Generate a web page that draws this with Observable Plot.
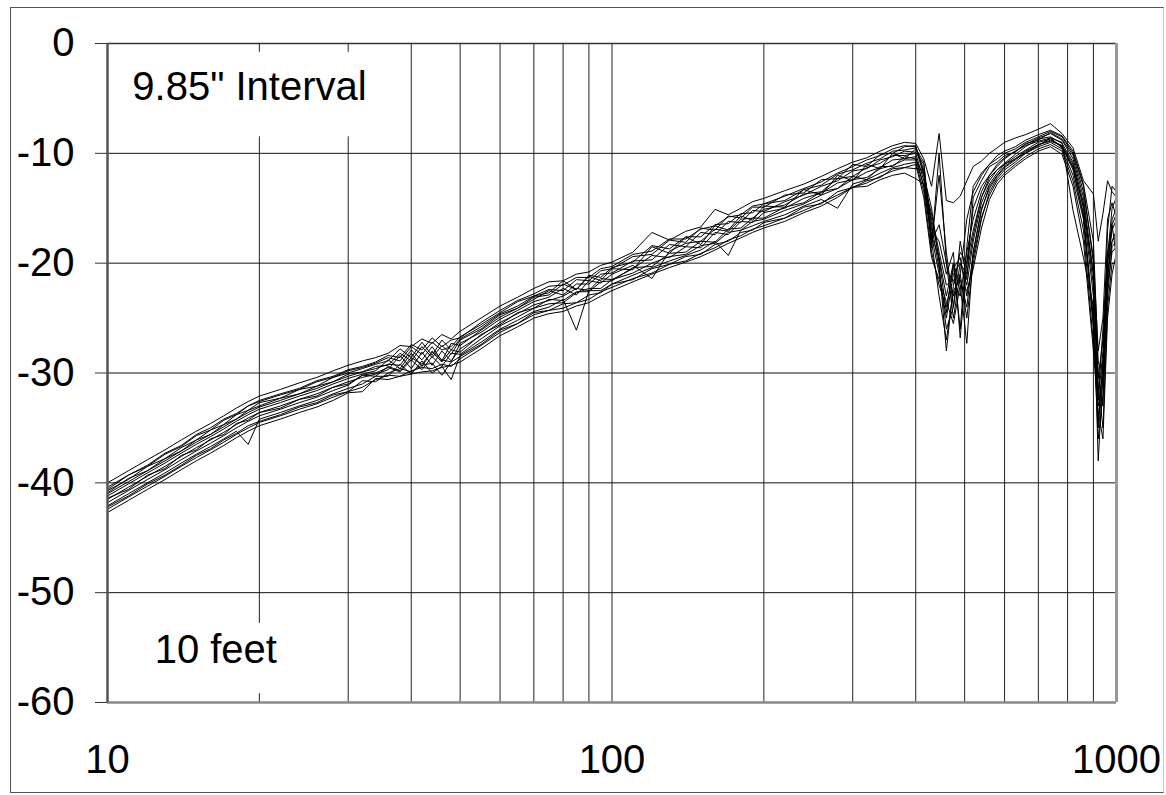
<!DOCTYPE html>
<html>
<head>
<meta charset="utf-8">
<script src="https://cdn.jsdelivr.net/npm/d3@7"></script>
<script src="https://cdn.jsdelivr.net/npm/@observablehq/plot@0.6"></script>
<style>
  html, body { margin: 0; padding: 0; background: #fff; }
  #wrap { position: relative; width: 1166px; height: 795px; }
  #frame { position: absolute; left: 10px; top: 7px; width: 1154px; height: 786px; box-sizing: border-box; border: 1px solid #555; border-right-color: #ccc; pointer-events: none; }
</style>
</head>
<body>
<div id="wrap"><div id="frame"></div></div>
<script>
// Frequencies (Hz) of the measurement points
const freqs = [10,11,12,13,14,15,16,17,18,19,20,
  22,24,26,28,30,32,34,36,38,40,
  42,44,46,48,50,
  55,60,65,70,75,80,85,90,95,100,
  110,120,130,140,150,160,170,180,190,200,
  220,240,260,280,300,320,340,360,380,400,
  415,430,445,460,475,490,505,520,540,560,580,600,
  630,660,700,740,780,820,860,900,920,940,960,980,1000];

// Response curves (dB), one array per measurement position
const curve0 = [-40.0,-38.9,-37.9,-37.0,-36.1,-35.3,-34.6,-33.9,-33.2,-32.6,-32.1,
  -31.5,-30.9,-30.4,-29.8,-29.3,-28.9,-28.6,-28.2,-27.5,-27.6,
  -26.9,-27.3,-26.5,-26.9,-26.2,
  -25.0,-23.9,-23.1,-22.3,-21.7,-21.6,-21.0,-20.8,-20.2,-19.9,
  -19.0,-17.2,-17.9,-17.1,-16.7,-15.1,-15.6,-15.0,-14.4,-14.1,
  -13.4,-12.8,-12.1,-11.4,-10.8,-10.4,-9.8,-9.3,-9.0,-9.1,
  -10.5,-13,-8.2,-14.3,-14.5,-13.9,-12.5,-11.2,-10.7,-10.0,-9.5,-9.0,
  -8.6,-8.3,-7.8,-7.3,-8.2,-9.5,-12.5,-13.7,-18,-15.5,-12.5,-13.5,-14];
const curve1 = [-40.4,-39.3,-38.4,-37.3,-36.6,-35.6,-35.0,-34.2,-33.7,-33.0,-32.5,
  -31.9,-31.4,-30.7,-30.3,-29.7,-29.4,-29.0,-28.4,-28.6,-27.4,
  -27.9,-26.8,-27.6,-27.0,-26.8,
  -25.4,-24.3,-23.4,-22.8,-22.1,-22.0,-21.3,-21.3,-20.5,-20.3,
  -19.2,-18.9,-17.8,-17.8,-16.9,-16.6,-15.8,-15.6,-14.8,-14.6,
  -13.9,-13.2,-12.6,-11.8,-11.2,-10.6,-10.2,-9.6,-9.3,-9.4,
  -11.5,-18.6,-10,-20,-25,-21,-16,-13.5,-12,-11,-10.5,-10,
  -9.6,-9,-8.5,-8.0,-8.5,-10,-13,-20,-30,-33,-22,-16,-15];
const curve2 = [-40.7,-39.7,-38.5,-37.8,-36.8,-36.1,-35.2,-34.7,-33.8,-33.4,-32.7,
  -32.3,-31.5,-31.2,-30.4,-30.0,-29.6,-29.2,-28.9,-27.8,-28.6,
  -27.2,-28.4,-27.0,-27.9,-26.9,
  -25.8,-24.6,-23.9,-23.0,-22.7,-21.6,-22.4,-21.1,-21.3,-20.4,
  -19.9,-18.4,-18.7,-17.6,-17.6,-16.5,-16.4,-15.5,-15.4,-14.6,
  -14.3,-13.3,-12.9,-11.9,-11.5,-10.9,-10.5,-9.8,-9.7,-9.5,
  -12,-15,-20,-28,-22,-19,-20,-17,-14,-12.5,-11.5,-11,
  -10.5,-10,-9.3,-8.6,-9,-15.2,-19.5,-24,-35,-29,-21,-18,-17];
const curve3 = [-41.0,-39.9,-38.9,-38.0,-37.1,-36.3,-35.6,-34.9,-34.2,-33.6,-33.1,
  -32.5,-31.9,-31.4,-30.8,-30.3,-29.9,-29.6,-29.2,-29.3,-27.9,
  -28.8,-27.6,-28.9,-27.3,-27.5,
  -26.1,-24.9,-24.1,-23.3,-22.5,-22.9,-21.9,-21.9,-21.0,-20.9,
  -19.8,-19.7,-18.3,-18.5,-17.2,-17.4,-16.2,-16.3,-15.2,-15.3,
  -14.4,-13.8,-13.0,-12.5,-11.6,-11.4,-10.6,-10.3,-9.8,-9.9,
  -11,-17,-18,-21,-19,-26.8,-20,-15,-13,-12,-11.2,-10.5,
  -9.8,-9.2,-8.6,-8.2,-8.8,-10.5,-14,-21,-32,-26,-19,-16.5,-15.5];
const curve4 = [-41.2,-40.1,-39.1,-38.2,-37.3,-36.5,-35.8,-35.1,-34.4,-33.8,-33.3,
  -32.7,-32.1,-31.6,-31.0,-30.5,-30.1,-29.8,-28.8,-29.6,-28.2,
  -29.4,-28.0,-28.8,-29.0,-27.3,
  -26.3,-25.1,-24.3,-23.5,-23.1,-22.3,-22.9,-21.6,-21.8,-21.0,
  -20.2,-21.4,-18.9,-18.2,-18.0,-16.9,-17.1,-16.0,-15.9,-15.1,
  -14.7,-13.7,-13.5,-12.3,-12.1,-11.3,-10.9,-10.2,-10.2,-10.0,
  -12.5,-16,-19.5,-23,-20,-22,-27.3,-19,-15.2,-13,-12,-11.2,
  -10.5,-9.8,-9.2,-8.9,-9.3,-11,-15,-23,-38,-30,-20,-17,-16];
const curve5 = [-41.5,-40.4,-39.4,-38.5,-37.6,-36.8,-36.1,-35.4,-34.7,-34.1,-33.6,
  -33.0,-32.4,-31.9,-31.3,-30.8,-30.4,-30.1,-29.7,-28.4,-29.6,
  -28.1,-29.3,-28.0,-28.9,-27.8,
  -26.6,-25.4,-24.6,-23.8,-23.4,-23.0,-22.3,-22.5,-21.4,-21.5,
  -20.5,-19.3,-19.5,-18.5,-18.6,-17.2,-17.4,-16.2,-16.3,-15.4,
  -15.0,-14.1,-13.6,-12.7,-12.4,-11.7,-11.3,-10.6,-10.5,-10.3,
  -13,-17.5,-21,-25,-21,-20,-22,-18,-14.5,-12.8,-11.8,-11,
  -10.3,-9.7,-9.0,-8.7,-9.4,-11.5,-15.5,-25,-33,-31,-21,-18,-17.5];
const curve6 = [-41.8,-40.7,-39.7,-38.8,-37.9,-37.1,-36.4,-35.7,-35.0,-34.4,-33.9,
  -33.3,-32.7,-32.2,-31.6,-31.1,-30.2,-30.0,-29.5,-29.9,-28.8,
  -29.7,-28.5,-29.4,-28.2,-28.3,
  -26.9,-25.7,-24.9,-24.1,-23.7,-23.6,-22.7,-22.3,-22.3,-21.5,
  -20.9,-20.0,-19.4,-19.2,-18.4,-18.2,-17.2,-17.0,-16.2,-16.0,
  -15.2,-14.6,-13.8,-13.2,-12.4,-12.2,-11.4,-11.1,-10.6,-10.6,
  -12,-18,-16.5,-20,-23,-21,-25,-20,-16,-13.5,-12.3,-11.5,
  -10.8,-10,-9.4,-9,-9.6,-12,-16,-26,-34.5,-29,-22,-19,-18.5];
const curve7 = [-42.1,-41.0,-40.0,-39.1,-38.2,-37.4,-36.7,-36.0,-35.3,-36.5,-34.2,
  -33.6,-33.0,-32.5,-31.9,-31.4,-31.0,-30.3,-30.3,-29.2,-30.1,
  -28.9,-30.0,-29.4,-30.6,-28.4,
  -27.2,-26.0,-25.2,-24.4,-24.0,-23.3,-26.1,-22.5,-22.5,-21.9,
  -21.1,-20.4,-19.8,-19.3,-18.8,-18.0,-19.3,-17.0,-16.6,-16.2,
  -15.6,-14.8,-14.2,-15.0,-12.8,-12.4,-11.8,-11.3,-11.0,-10.8,
  -13.5,-19,-22,-24,-20.5,-19.5,-23,-19.5,-15.8,-13.8,-12.5,-11.8,
  -11,-10.3,-9.6,-9.2,-9.8,-12.5,-17,-27.3,-31,-35,-24,-20,-20];
const curve8 = [-42.4,-41.3,-40.3,-39.4,-38.5,-37.7,-37.0,-36.3,-35.6,-35.0,-34.5,
  -33.9,-33.3,-32.8,-32.2,-31.7,-31.3,-30.6,-30.2,-30.3,-29.8,
  -29.5,-29.6,-29.2,-29.4,-28.7,
  -27.5,-26.3,-25.5,-24.7,-24.3,-24.1,-23.6,-23.3,-22.6,-22.2,
  -21.4,-20.9,-20.1,-19.8,-19.1,-18.6,-17.9,-17.5,-16.9,-16.6,
  -15.9,-15.2,-14.5,-13.8,-13.1,-12.7,-12.1,-11.6,-11.3,-11.4,
  -11.5,-16.5,-20.5,-26,-24,-20,-21,-17.5,-14,-12.2,-11.5,-10.9,
  -10.1,-9.4,-8.7,-8.5,-9.1,-10.8,-14.5,-22,-32.5,-28,-19.5,-15,-14];
const curve9 = [-42.7,-41.6,-40.6,-39.7,-38.8,-38.0,-37.3,-36.6,-35.9,-35.3,-34.8,
  -34.2,-33.6,-33.1,-32.5,-31.8,-31.7,-30.5,-30.6,-30.3,-30.1,
  -29.9,-29.8,-29.5,-29.3,-29.0,
  -27.8,-26.6,-25.8,-25.0,-24.6,-24.4,-23.9,-23.6,-23.0,-22.5,
  -21.7,-21.0,-20.4,-19.9,-19.4,-18.8,-18.2,-17.7,-17.2,-16.8,
  -16.2,-15.4,-14.8,-14.0,-13.1,-13.0,-12.4,-12.0,-11.8,-12.3,
  -12.8,-15.5,-19,-22,-21.5,-23,-19,-16,-13.5,-12,-11,-10.4,
  -9.8,-9.3,-8.9,-8.6,-9.5,-11.2,-14.8,-21,-30.5,-27,-20,-16.5,-19.5];
const curve10 = [-40.9,-39.6,-38.9,-37.8,-37.1,-36.1,-35.6,-34.7,-34.2,-33.4,-33.0,
  -32.3,-31.9,-31.2,-30.8,-30.1,-29.9,-29.4,-29.3,-28.2,-28.9,
  -27.6,-28.6,-27.5,-28.3,-27.0,
  -26.0,-24.7,-24.1,-23.1,-22.9,-21.9,-22.4,-21.2,-21.6,-20.5,
  -20.6,-18.5,-19.1,-17.6,-18.3,-16.6,-17.0,-15.7,-16.1,-14.8,
  -14.9,-13.3,-13.8,-12.0,-12.5,-11.0,-11.4,-10.0,-10.5,-9.6,
  -10.8,-18.2,-12,-19,-24,-18,-21.5,-14,-12.5,-11.2,-10.8,-10.2,
  -9.9,-9.1,-8.8,-8.1,-8.7,-10.2,-13.5,-19.5,-28,-25,-16,-14.5,-15.8];
const curve11 = [-41.4,-40.6,-39.3,-38.7,-37.5,-37.0,-36.0,-35.6,-34.6,-34.3,-33.6,
  -33.2,-32.4,-32.1,-31.3,-31.0,-30.2,-30.3,-29.4,-29.8,-28.6,
  -29.2,-28.1,-29.0,-27.9,-28.1,
  -26.5,-25.6,-24.5,-24.1,-23.3,-23.4,-22.6,-22.6,-21.7,-21.6,
  -20.4,-20.3,-19.1,-19.0,-18.0,-18.1,-16.9,-16.8,-15.9,-15.9,
  -14.9,-14.5,-13.5,-13.2,-12.1,-12.4,-11.2,-11.2,-10.3,-10.5,
  -13,-18,-23,-27,-22.5,-21.5,-24,-19,-15,-13.2,-12.1,-11.3,
  -10.6,-9.9,-9.2,-8.8,-9.3,-11.3,-15.8,-25.5,-36,-32,-23,-18.5,-18];
const curve12 = [-40.6,-39.3,-38.5,-37.4,-36.7,-35.7,-35.2,-34.3,-33.8,-33.0,-32.6,
  -32.0,-31.5,-30.8,-30.4,-29.8,-29.5,-29.1,-28.6,-28.9,-27.6,
  -28.3,-27.2,-27.9,-27.6,-26.7,
  -25.6,-24.5,-23.5,-23.0,-22.4,-22.5,-21.5,-21.6,-20.7,-20.5,
  -19.4,-19.2,-17.9,-18.1,-16.8,-17.0,-15.7,-15.9,-14.9,-14.9,
  -13.8,-13.6,-12.4,-12.3,-11.0,-11.2,-10.1,-10.0,-9.4,-9.3,
  -11.8,-17.5,-19.5,-24.5,-20,-26,-18.5,-13,-11.8,-11,-10.2,-9.8,
  -9.4,-8.8,-8.3,-7.9,-8.4,-9.8,-12.8,-18,-29,-30,-17,-13,-13.5];
const curve13 = [-42.2,-41.2,-40.1,-39.3,-38.4,-37.5,-36.9,-36.1,-35.5,-34.8,-34.4,
  -33.8,-33.1,-32.7,-32.0,-31.7,-30.7,-30.8,-30.0,-29.6,-29.9,
  -29.3,-29.1,-30.2,-29.0,-28.5,
  -27.4,-26.1,-25.5,-24.5,-24.3,-23.7,-23.6,-22.9,-22.7,-21.9,
  -21.5,-20.5,-20.1,-19.4,-19.2,-18.3,-18.0,-17.2,-17.0,-16.3,
  -15.9,-14.9,-14.6,-13.5,-13.1,-12.5,-12.2,-11.4,-11.3,-11.0,
  -14,-19.5,-21.5,-23.5,-25.5,-22,-22.5,-20.5,-16.8,-14.2,-12.8,-12,
  -11.2,-10.5,-9.8,-9.4,-10.1,-13,-18,-28,-33.5,-36,-25,-21,-19];

const curves = [curve0, curve1, curve2, curve3, curve4, curve5, curve6, curve7,
  curve8, curve9, curve10, curve11, curve12, curve13];

// Axis ticks and grid
const xTicks = [10, 100, 1000];
const xGrid = [20,30,40,50,60,70,80,90,100,200,300,400,500,600,700,800,900];
const yTicks = [0,-10,-20,-30,-40,-50,-60];
const yGrid = [-10,-20,-30,-40,-50];

// Annotations
const notes = [
  {label: "9.85\" Interval", f: 11.2, db: -4.0},
  {label: "10 feet", f: 12.4, db: -55.2}
];

const rows = curves.flatMap((c, i) => freqs.map((f, j) => ({curve: i, f, db: c[j]})));

const chart = Plot.plot({
  width: 1166,
  height: 795,
  marginTop: 43,
  marginRight: 50,
  marginBottom: 93,
  marginLeft: 107,
  style: {fontFamily: "'Liberation Sans', Arial, sans-serif", fontSize: "40px", background: "transparent", color: "#000"},
  x: {type: "log", domain: [10, 1000]},
  y: {domain: [-60, 0]},
  marks: [
    Plot.ruleX(xGrid, {stroke: "#222", strokeWidth: 1}),
    Plot.ruleY(yGrid, {stroke: "#111", strokeWidth: 1}),
    Plot.rect([0], {x1: 10.35, x2: 34, y1: -0.8, y2: -8.5, fill: "white"}),
    Plot.rect([0], {x1: 11.6, x2: 23, y1: -52.8, y2: -59.2, fill: "white"}),
    Plot.text(notes, {x: "f", y: "db", text: "label", textAnchor: "start", fontSize: 40, fill: "black"}),
    Plot.line(rows, {x: "f", y: "db", z: "curve", stroke: "#000", strokeWidth: 1}),
    Plot.ruleY([0], {stroke: "#333", strokeWidth: 1.5}),
    Plot.ruleY([-60], {stroke: "#888", strokeWidth: 2.5}),
    Plot.ruleX([10], {stroke: "#555", strokeWidth: 2.5}),
    Plot.ruleX([1000], {stroke: "#999", strokeWidth: 3}),
    Plot.axisY({ticks: yTicks, tickFormat: d => String(d), tickSize: 12, tickPadding: 21, fontSize: 40, label: null, stroke: "#333"}),
    Plot.axisX({ticks: xTicks, tickFormat: d => String(d), tickSize: 0, tickPadding: 42, fontSize: 40, label: null})
  ]
});
document.getElementById("wrap").prepend(chart);
chart.style.position = "absolute";
chart.style.left = "0";
chart.style.top = "0";
</script>
</body>
</html>
